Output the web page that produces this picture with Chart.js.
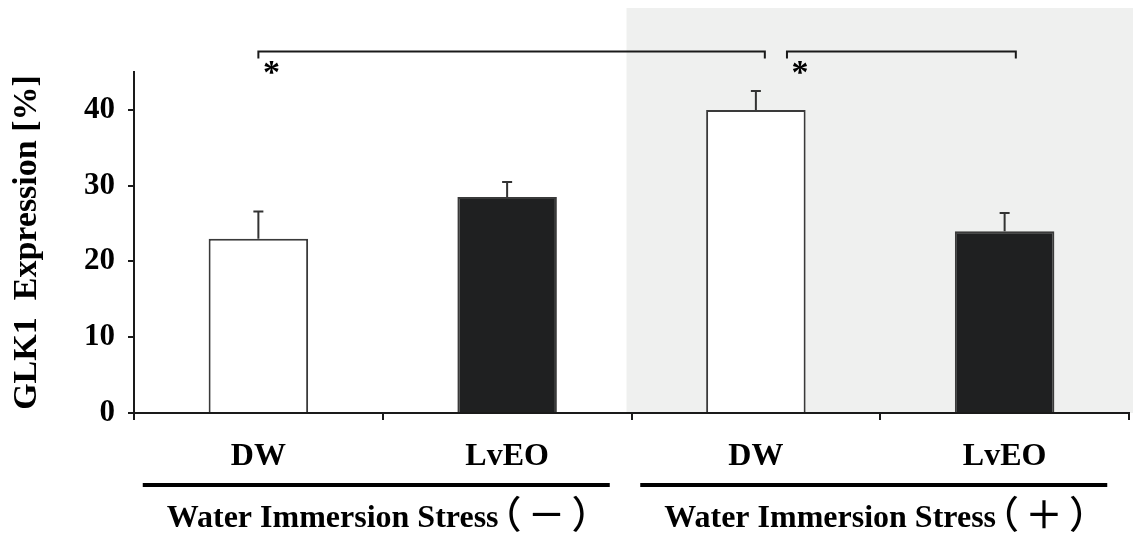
<!DOCTYPE html>
<html>
<head>
<meta charset="utf-8">
<script src="https://cdn.jsdelivr.net/npm/chart.js@4.4.1/dist/chart.umd.min.js"></script>
<style>
html,body{margin:0;padding:0;background:#fff}
#wrap{width:1133px;height:538px}
</style>
</head>
<body>
<div id="wrap"><canvas id="chart"></canvas></div>
<script>
// data
var labels = ["DW", "LvEO", "DW", "LvEO"]
var values = [23, 28.5, 40, 24]
var errors = [3.6, 2.0, 2.5, 2.4]
var barColors = ["#ffffff", "#1f2021", "#ffffff", "#1f2021"]
var groups = ["Water Immersion Stress", "Water Immersion Stress"]
var groupSigns = ["\uFF08\uFF0D\uFF09", "\uFF08\uFF0B\uFF09"]
var groupFirst = [0, 2]
var groupLast = [1, 3]
var shadedFrom = 2           // stress(+) half gets the grey background
var bracketFrom = [0, 2]
var bracketTo = [2, 3]
var bracketLevel = 47.7
var yMax = 45
var yStep = 5

var serif = "'Liberation Serif', 'Noto Sans CJK JP', serif"
var ink = "#1a1a1a"

var decor = {
    id: "decor",
    beforeDraw: function (chart) {
        var ctx = chart.ctx, x = chart.scales.x, y = chart.scales.y
        var step = x.getPixelForValue(1) - x.getPixelForValue(0)
        var left = x.getPixelForValue(shadedFrom) - 0.52 * step
        ctx.save()
        ctx.fillStyle = "#eff0ef"
        ctx.fillRect(left, 8, chart.width - left, y.getPixelForValue(0) - 8)
        ctx.restore()
    },
    afterDatasetsDraw: function (chart) {
        // upper error whiskers
        var ctx = chart.ctx, x = chart.scales.x, y = chart.scales.y
        ctx.save()
        ctx.strokeStyle = "#333"
        ctx.lineWidth = 2
        for (var i = 0; i < values.length; i++) {
            var cx = x.getPixelForValue(i)
            var top = y.getPixelForValue(values[i] + errors[i])
            ctx.beginPath()
            ctx.moveTo(cx, y.getPixelForValue(values[i]))
            ctx.lineTo(cx, top)
            ctx.moveTo(cx - 5, top)
            ctx.lineTo(cx + 5, top)
            ctx.stroke()
        }
        ctx.restore()
    },
    afterDraw: function (chart) {
        var ctx = chart.ctx, x = chart.scales.x, y = chart.scales.y
        var step = x.getPixelForValue(1) - x.getPixelForValue(0)
        ctx.save()
        // significance brackets
        var shift = [[0, 0.036], [0.125, 0.045]]
        var by = y.getPixelForValue(bracketLevel)
        ctx.strokeStyle = ink
        ctx.lineWidth = 2
        ctx.fillStyle = "#000"
        ctx.font = "bold 34px " + serif
        ctx.textAlign = "center"
        ctx.textBaseline = "alphabetic"
        for (var b = 0; b < bracketFrom.length; b++) {
            var x1 = x.getPixelForValue(bracketFrom[b]) + shift[b][0] * step
            var x2 = x.getPixelForValue(bracketTo[b]) + shift[b][1] * step
            ctx.beginPath()
            ctx.moveTo(x1, by + 7)
            ctx.lineTo(x1, by)
            ctx.lineTo(x2, by)
            ctx.lineTo(x2, by + 7)
            ctx.stroke()
            ctx.fillText("*", x1 + 13, by + 31)
        }
        // group rules and labels
        ctx.textAlign = "left"
        for (var g = 0; g < groups.length; g++) {
            var c = (x.getPixelForValue(groupFirst[g]) + x.getPixelForValue(groupLast[g])) / 2
            ctx.fillStyle = "#000"
            ctx.fillRect(c - 240, 483, 467, 4)
            var tx = c - 216
            ctx.font = "bold 32px " + serif
            ctx.letterSpacing = "0px"
            ctx.fillText(groups[g], tx, 527)
            tx += ctx.measureText(groups[g]).width - 15
            ctx.font = "500 38px " + serif
            ctx.letterSpacing = "6px"
            ctx.fillText(groupSigns[g], tx, 528)
        }
        ctx.restore()
    }
}

new Chart(document.getElementById("chart"), {
    type: "bar",
    data: {
        labels: labels,
        datasets: [{
            data: values,
            backgroundColor: barColors,
            borderColor: "#3a3a3a",
            borderWidth: 2,
            borderSkipped: "bottom",
            barPercentage: 0.4,
            categoryPercentage: 1
        }]
    },
    options: {
        responsive: true,
        maintainAspectRatio: false,
        animation: false,
        layout: { padding: { top: 72, right: 4, left: 0, bottom: 0 } },
        plugins: { legend: { display: false }, tooltip: { enabled: false } },
        scales: {
            x: {
                offset: true,
                grid: { offset: true, drawOnChartArea: false, drawTicks: true, tickLength: 7, color: ink, lineWidth: 2 },
                border: { display: true, color: ink, width: 2 },
                ticks: { color: "#000", font: { family: serif, size: 32, weight: "bold" }, padding: 18 },
                afterFit: function (s) { s.height = 125 }
            },
            y: {
                min: 0,
                max: yMax,
                grid: { drawOnChartArea: false, drawTicks: true, tickLength: 6, color: ink, lineWidth: 2 },
                border: { display: true, color: ink, width: 2 },
                ticks: {
                    stepSize: yStep,
                    color: "#000",
                    padding: 13,
                    font: { family: serif, size: 31, weight: "bold" },
                    callback: function (v) { return v % 10 === 0 ? v : "" }
                },
                title: {
                    display: true,
                    text: "GLK1  Expression [%]",
                    color: "#000",
                    font: { family: serif, size: 34, weight: "bold" },
                    padding: { top: 7, bottom: 0 }
                },
                afterFit: function (s) { s.width = 134 }
            }
        }
    },
    plugins: [decor]
})
</script>
</body>
</html>
